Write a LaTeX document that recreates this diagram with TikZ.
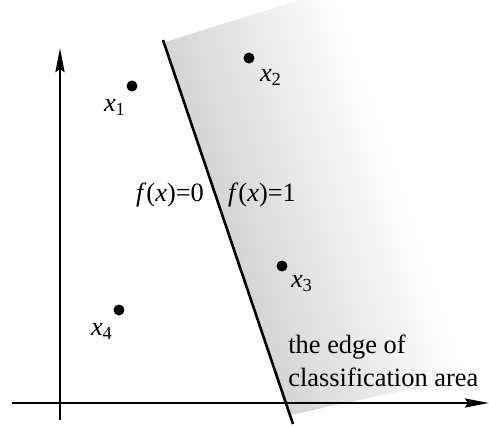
\documentclass[tikz,border=0pt]{standalone}
\usepackage{fontspec}
\setmainfont{Liberation Serif}
\usepackage{tikz}
\usetikzlibrary{arrows.meta,positioning,calc}
\tikzset{
    axis/.style={draw,line width=1.3pt,-{Stealth[length=12pt,width=4.5pt,inset=1.5pt]}},
    edge/.style={draw,line width=1.3pt},
    dot/.style={circle,fill=black,minimum size=5.5pt,inner sep=0pt},
    lbl/.style={inner sep=0pt,font=\fontsize{13.2}{16.5}\selectfont},
}
\newcommand{\xs}[1]{\textit{x}\textsubscript{#1}}

\begin{document}
\begin{tikzpicture}[x=0.5pt,y=-0.5pt]
    \useasboundingbox (0,0) rectangle (489,425);
    % shaded half plane
    \begin{scope}
    \clip (165,42) -- (300,0) -- (489,0) -- (489,372) -- (290.5,415) -- cycle;
    \shade[left color=black!22, right color=white,
        transform canvas={shift={(163,40)},rotate=18.7}] (-60,-40) rectangle (180,440);
    \end{scope}

    \coordinate (xs) at (12,403);
    \coordinate (xe) at (489,403);
    \coordinate (ys) at (60,420);
    \coordinate (ye) at (60,48);
    \coordinate (la) at (163,40);
    \coordinate (lb) at (293,424);

    \draw[axis] (xs) -- (xe);
    \draw[axis] (ys) -- (ye);
    \draw[edge] (la) -- (lb);

    \node[dot] (p1) at (132,86) {};
    \node[dot] (p2) at (249,58) {};
    \node[dot] (p3) at (282,266) {};
    \node[dot] (p4) at (119,310) {};
    \node[lbl] (l1) at (115,107) {\xs{1}};
    \node[lbl] (l2) at (271,77) {\xs{2}};
    \node[lbl] (l3) at (302,284) {\xs{3}};
    \node[lbl] (l4) at (102,331) {\xs{4}};

    \node[lbl] (f0) at (170,195) {\textit{f}(\textit{x})=0};
    \node[lbl] (f1) at (262,195) {\textit{f}(\textit{x})=1};
    \node[lbl,anchor=west,align=left] (edg) at (288,361) {the edge of\\classification area};
\end{tikzpicture}
\end{document}
